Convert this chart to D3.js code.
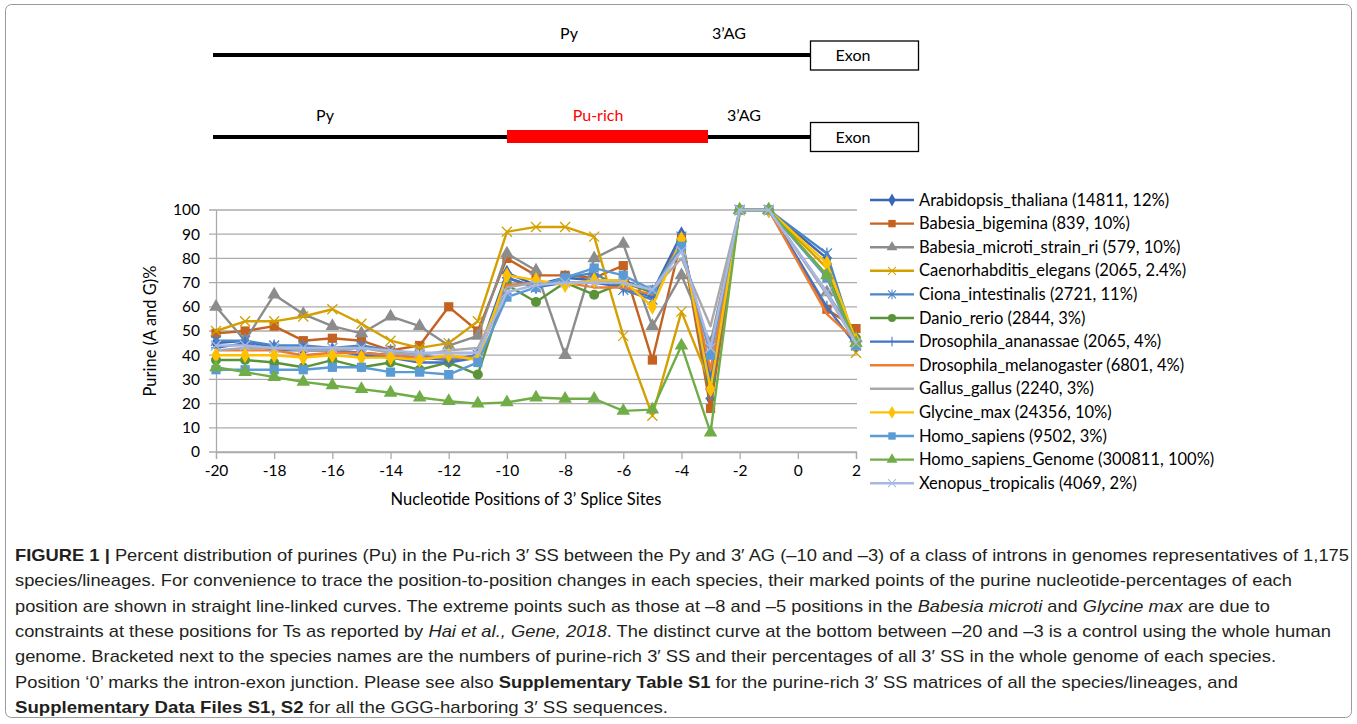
<!DOCTYPE html>
<html><head><meta charset="utf-8">
<script src="https://cdn.jsdelivr.net/npm/d3@7"></script>
<style>
html,body{margin:0;padding:0;background:#fff;}
svg{display:block;}
</style></head>
<body>
<svg id="c" width="1357" height="724"></svg>
<script>
// ---------- DATA ----------
const positions = [-20,-19,-18,-17,-16,-15,-14,-13,-12,-11,-10,-9,-8,-7,-6,-5,-4,-3,-2,-1,1,2];
const xTicks = [-20,-18,-16,-14,-12,-10,-8,-6,-4,-2,0,2];
const yTicks = [0,10,20,30,40,50,60,70,80,90,100];

const seriesNames = [
  "Arabidopsis_thaliana (14811, 12%)",
  "Babesia_bigemina (839, 10%)",
  "Babesia_microti_strain_ri (579, 10%)",
  "Caenorhabditis_elegans (2065, 2.4%)",
  "Ciona_intestinalis (2721, 11%)",
  "Danio_rerio (2844, 3%)",
  "Drosophila_ananassae (2065, 4%)",
  "Drosophila_melanogaster (6801, 4%)",
  "Gallus_gallus (2240, 3%)",
  "Glycine_max (24356, 10%)",
  "Homo_sapiens (9502, 3%)",
  "Homo_sapiens_Genome (300811, 100%)",
  "Xenopus_tropicalis (4069, 2%)"
];
const arabidopsis   = [45,46,43,42,42,41,40,39,38,40,74,69,72,71,71,66,90,22,100,100,80,44];
const bigemina      = [49,50,52,46,47,46,42,44,60,50,80,73,73,72,77,38,88,18,100,100,59,51];
const microti       = [60,46,65,57,52,49,56,52,44,48,82,75,40,80,86,52,73,45,100,100,66,47];
const elegans       = [50,54,54,56,59,53,46,43,45,54,91,93,93,89,48,15,58,28,100,100,76,41];
const ciona         = [46,46,44,44,43,44,42,40,38,40,72,68,72,74,67,63,89,24,100,100,82,44];
const danio         = [38,38,37,35,38,35,37,34,37,32,69,62,70,65,70,66,87,30,100,100,73,47];
const ananassae     = [43,45,42,42,42,40,39,37,37,39,72,68,70,70,68,64,88,30,100,100,60,44];
const melanogaster  = [42,42,42,40,41,41,40,39,39,39,69,70,70,68,68,65,87,34,100,100,57,46];
const gallus        = [42,43,43,42,42,43,41,40,42,43,68,70,70,70,70,67,80,52,100,100,65,45];
const glycine       = [40,40,40,39,40,39,39,38,40,38,73,71,69,71,71,60,88,26,100,100,78,46];
const homoSapiens   = [34,34,34,34,35,35,33,33,32,37,64,68,72,76,73,67,85,40,100,100,72,44];
const homoGenome    = [35,33,31,29,27.5,26,24.5,22.5,21,20,20.5,22.5,22,22,17,17.5,44,8,100,100,73,45];
const xenopus       = [44,44,43,43,43,43,42,41,41,41,66,69,70,70,70,67,83,43,100,100,66,45];

const seriesValues = [arabidopsis,bigemina,microti,elegans,ciona,danio,ananassae,melanogaster,gallus,glycine,homoSapiens,homoGenome,xenopus];
const seriesColors = ["#3A66B8","#C5621F","#8C8C8C","#D4A000","#4A86C5","#5A9438","#4472C4","#ED7D31","#A9A9A9","#FFC000","#5B9BD5","#70AD47","#A8B8E2"];
const seriesMarkers = ["diamond","square","triangle","x","asterisk","circle","plus","none","none","diamond","square","triangle","x"];

// ---------- DRAW ----------
const svg = d3.select("#c");
const FONT = "Lato, 'Open Sans', sans-serif";

// outer border
svg.append("rect").attr("x",5.5).attr("y",4.5).attr("width",1346).attr("height",713)
  .attr("rx",6).attr("fill","none").attr("stroke","#9a9a9a").attr("stroke-width",1);

// ---- diagram ----
const dg = svg.append("g").attr("font-family",FONT).attr("font-size",16).attr("fill","#000");
function intron(y, boxY){
  dg.append("line").attr("x1",213).attr("x2",811).attr("y1",y).attr("y2",y)
    .attr("stroke","#000").attr("stroke-width",4);
  dg.append("rect").attr("x",810.5).attr("y",boxY).attr("width",108).attr("height",29)
    .attr("fill","#fff").attr("stroke","#000").attr("stroke-width",1.3);
  dg.append("text").attr("x",853).attr("y",boxY+20).attr("text-anchor","middle").text("Exon");
}
intron(55, 41);
intron(137, 122.5);
dg.append("rect").attr("x",507).attr("y",130).attr("width",201).attr("height",13).attr("fill","#FF0000");
dg.append("text").attr("x",569).attr("y",39).attr("text-anchor","middle").text("Py");
dg.append("text").attr("x",729).attr("y",39).attr("text-anchor","middle").text("3\u2019AG");
dg.append("text").attr("x",325).attr("y",121).attr("text-anchor","middle").text("Py");
dg.append("text").attr("x",598).attr("y",121).attr("text-anchor","middle").attr("fill","#FF0000").text("Pu-rich");
dg.append("text").attr("x",744).attr("y",121).attr("text-anchor","middle").text("3\u2019AG");

// ---- chart ----
const x = d3.scaleLinear().domain([-20,2]).range([216,856]);
const y = d3.scaleLinear().domain([0,100]).range([452,210]);
const g = svg.append("g").attr("font-family",FONT);

// gridlines
g.append("g").selectAll("line").data(yTicks).join("line")
  .attr("x1",209).attr("x2",857).attr("y1",d=>y(d)).attr("y2",d=>y(d))
  .attr("stroke","#ABABAB").attr("stroke-width",1.3);
// y axis
const yAxis = d3.axisLeft(y).tickValues(yTicks).tickSize(0).tickPadding(16);
const ya = g.append("g").attr("transform","translate(216,0)").call(yAxis);
ya.select(".domain").attr("stroke","#ABABAB").attr("stroke-width",1.3);
ya.selectAll("text").attr("font-family",FONT).attr("font-size",15.5).attr("fill","#000");
// x axis
const xAxis = d3.axisBottom(x).tickValues(xTicks).tickSize(7).tickPadding(6).tickFormat(d=>String(d));
const xa = g.append("g").attr("transform","translate(0,452)").call(xAxis);
xa.select(".domain").attr("stroke","#ABABAB").attr("stroke-width",1.3);
xa.selectAll("line").attr("stroke","#ABABAB").attr("stroke-width",1.3);
xa.selectAll("text").attr("font-family",FONT).attr("font-size",15.5).attr("fill","#000");

g.append("text").attr("x",526).attr("y",505).attr("text-anchor","middle")
  .attr("font-size",16.5).attr("fill","#000").text("Nucleotide Positions of 3\u2019 Splice Sites");
g.append("text").attr("transform","translate(156,331) rotate(-90)").attr("text-anchor","middle")
  .attr("font-size",16.5).attr("fill","#000").text("Purine (A and G)%");

function drawMarker(sel, type, color, cx, cy, sc){
  sc = sc || 1;
  const s = sel.append("g").attr("transform",`translate(${cx},${cy}) scale(${sc})`);
  if(type==="diamond") s.append("path").attr("d",d3.symbol(d3.symbolDiamond,75)()).attr("fill",color);
  else if(type==="square") s.append("path").attr("d",d3.symbol(d3.symbolSquare,85)()).attr("fill",color);
  else if(type==="triangle") s.append("path").attr("d",d3.symbol(d3.symbolTriangle,80)()).attr("fill",color);
  else if(type==="circle") s.append("circle").attr("r",5).attr("fill",color);
  else if(type==="x") s.append("path").attr("d","M-5,-5L5,5M-5,5L5,-5").attr("stroke",color).attr("stroke-width",1.3).attr("fill","none");
  else if(type==="asterisk") s.append("path").attr("d","M-5,-5L5,5M-5,5L5,-5M0,-6L0,6").attr("stroke",color).attr("stroke-width",1.3).attr("fill","none");
  else if(type==="plus") s.append("path").attr("d","M0,-6L0,6M-5,0L5,0").attr("stroke",color).attr("stroke-width",1.3).attr("fill","none");
}

const line = d3.line().x((d,i)=>x(positions[i])).y(d=>y(d));
seriesValues.forEach((vals,k)=>{
  const sg = g.append("g");
  sg.append("path").attr("d",line(vals)).attr("fill","none")
    .attr("stroke",seriesColors[k]).attr("stroke-width",2.4).attr("stroke-linejoin","round");
  if(seriesMarkers[k]!=="none"){
    vals.forEach((v,i)=>drawMarker(sg,seriesMarkers[k],seriesColors[k],x(positions[i]),y(v)));
  }
});

// legend
const lg = g.append("g");
seriesNames.forEach((name,k)=>{
  const yy = 200 + k*23.6;
  lg.append("line").attr("x1",870).attr("x2",914).attr("y1",yy).attr("y2",yy)
    .attr("stroke",seriesColors[k]).attr("stroke-width",2.4);
  if(seriesMarkers[k]!=="none") drawMarker(lg,seriesMarkers[k],seriesColors[k],892,yy,0.8);
  lg.append("text").attr("x",919).attr("y",yy+5.5).attr("font-size",16.5).attr("fill","#000").text(name);
});

// ---- caption ----
const capLines = [
  {w:1334,parts:[["FIGURE 1 | ","b"],["Percent distribution of purines (Pu) in the Pu-rich 3\u2032 SS between the Py and 3\u2032 AG (\u201310 and \u20133) of a class of introns in genomes representatives of 1,175",""]]},
  {w:1277,parts:[["species/lineages. For convenience to trace the position-to-position changes in each species, their marked points of the purine nucleotide-percentages of each",""]]},
  {w:1255,parts:[["position are shown in straight line-linked curves. The extreme points such as those at \u20138 and \u20135 positions in the ",""],["Babesia microti","i"],[" and ",""],["Glycine max","i"],[" are due to",""]]},
  {w:1316,parts:[["constraints at these positions for Ts as reported by ",""],["Hai et al., Gene, 2018","i"],[". The distinct curve at the bottom between \u201320 and \u20133 is a control using the whole human",""]]},
  {w:1261,parts:[["genome. Bracketed next to the species names are the numbers of purine-rich 3\u2032 SS and their percentages of all 3\u2032 SS in the whole genome of each species.",""]]},
  {w:1223,parts:[["Position \u20180\u2019 marks the intron-exon junction. Please see also ",""],["Supplementary Table S1","b"],[" for the purine-rich 3\u2032 SS matrices of all the species/lineages, and",""]]},
  {w:653,parts:[["Supplementary Data Files S1, S2","b"],[" for all the GGG-harboring 3\u2032 SS sequences.",""]]}
];
const cap = svg.append("g").attr("font-family","'Liberation Sans', Arial, sans-serif").attr("font-size",17).attr("fill","#231F20");
capLines.forEach((ln,i)=>{
  const t = cap.append("text").attr("x",15).attr("y",561+i*25.3)
    .attr("textLength",ln.w).attr("lengthAdjust","spacingAndGlyphs");
  ln.parts.forEach(p=>{
    const ts = t.append("tspan").text(p[0]);
    if(p[1]==="b") ts.attr("font-weight","bold");
    if(p[1]==="i") ts.attr("font-style","italic");
  });
});
</script>
</body></html>
